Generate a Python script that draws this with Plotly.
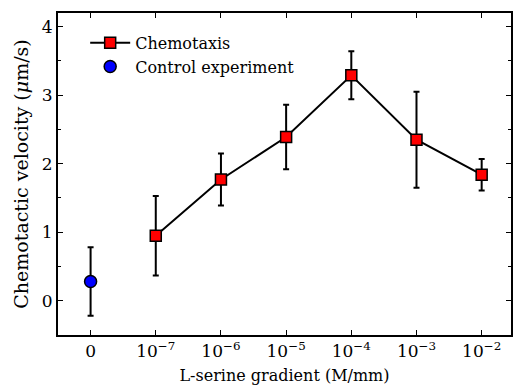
import plotly.graph_objects as go

categories = ["0", "10<sup>−7</sup>", "10<sup>−6</sup>", "10<sup>−5</sup>", "10<sup>−4</sup>", "10<sup>−3</sup>", "10<sup>−2</sup>"]
chemo_pos = [1, 2, 3, 4, 5, 6]
chemo_vals = [0.95, 1.77, 2.39, 3.29, 2.35, 1.84]
chemo_err = [0.58, 0.38, 0.47, 0.35, 0.70, 0.23]
control_pos = [0]
control_vals = [0.28]
control_err = [0.50]

FONT = "DejaVu Serif, serif"

fig = go.Figure()
fig.add_trace(go.Scatter(
    x=chemo_pos, y=chemo_vals, mode="lines+markers", name="Chemotaxis",
    line=dict(color="black", width=2),
    marker=dict(symbol="square", size=11, color="red", line=dict(color="black", width=1.5)),
    error_y=dict(type="data", array=chemo_err, color="black", thickness=2, width=3),
))
fig.add_trace(go.Scatter(
    x=control_pos, y=control_vals, mode="markers", name="Control experiment",
    marker=dict(symbol="circle", size=12, color="blue", line=dict(color="black", width=1.5)),
    error_y=dict(type="data", array=control_err, color="black", thickness=2, width=3),
))

fig.update_layout(
    width=513, height=386,
    margin=dict(l=58, r=0, t=13, b=51),
    paper_bgcolor="white", plot_bgcolor="white",
    font=dict(family=FONT, size=16, color="black"),
    showlegend=True,
    legend=dict(x=0.06, y=0.96, xanchor="left", yanchor="top",
                bgcolor="rgba(0,0,0,0)", font=dict(size=16), itemwidth=40,
                tracegroupgap=0),
    xaxis=dict(
        range=[-0.5, 6.45], tickmode="array", tickvals=list(range(7)), ticktext=categories,
        showline=True, linecolor="black", linewidth=2, mirror="ticks",
        ticks="inside", ticklen=5, tickcolor="black", showgrid=False, zeroline=False,
        tickfont=dict(size=17),
        title=dict(text="L-serine gradient (M/mm)", standoff=9, font=dict(size=16)),
    ),
    yaxis=dict(
        range=[-0.5, 4.2], tickvals=[0, 1, 2, 3, 4],
        showline=True, linecolor="black", linewidth=2, mirror="ticks",
        ticks="inside", ticklen=5, tickcolor="black", showgrid=False, zeroline=False,
        tickfont=dict(size=17),
        minor=dict(tickvals=[-0.5, 0.5, 1.5, 2.5, 3.5], ticks="inside", ticklen=3, tickcolor="black"),
        title=dict(text="Chemotactic velocity (<i>μ</i>m/s)", standoff=8),
    ),
)

fig.write_html("out.html")
